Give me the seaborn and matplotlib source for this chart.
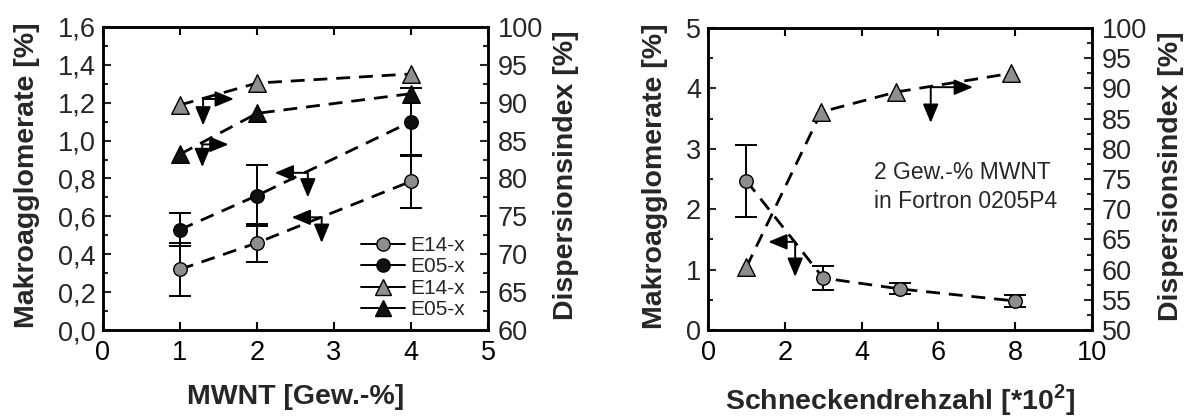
import matplotlib
matplotlib.use("Agg")
import matplotlib.pyplot as plt
from matplotlib.lines import Line2D
from matplotlib.ticker import MultipleLocator, FuncFormatter
import numpy as np
import pandas as pd
import seaborn as sns

# ---------------- data ----------------
mwnt = [1, 2, 4]
e14_makro = [0.32, 0.46, 0.785]
e14_makro_err = [0.14, 0.10, 0.14]
e05_makro = [0.53, 0.71, 1.10]
e05_makro_err = [0.086, 0.16, 0.18]
e14_disp = [89.7, 92.6, 93.8]
e05_disp = [83.2, 88.6, 91.2]
legend_labels = ["E14-x", "E05-x", "E14-x", "E05-x"]

drehzahl = [1, 3, 5, 8]
drehzahl_disp = [1, 2.95, 4.9, 7.9]
makro_r = [2.47, 0.86, 0.68, 0.48]
makro_r_err = [0.60, 0.20, 0.09, 0.10]
disp_r = [60.4, 86.1, 89.4, 92.5]

# annotation arrows (corner, tip) in left-axis data units
arrows_left = [((1.30, 1.22), (1.30, 1.08)), ((1.30, 1.22), (1.70, 1.22)),
               ((1.29, 0.98), (1.29, 0.86)), ((1.29, 0.98), (1.63, 0.98)),
               ((2.66, 0.83), (2.23, 0.83)), ((2.66, 0.83), (2.66, 0.70)),
               ((2.84, 0.595), (2.45, 0.595)), ((2.84, 0.595), (2.84, 0.46))]
arrows_right = [((5.8, 4.02), (5.8, 3.43)), ((5.8, 4.02), (6.9, 4.02)),
                ((2.27, 1.46), (1.57, 1.46)), ((2.27, 1.46), (2.27, 0.88))]

# ---------------- style ----------------
sns.set_style("ticks")
plt.rcParams["font.family"] = ["Liberation Sans", "DejaVu Sans"]
plt.rcParams["mathtext.fontset"] = "custom"
plt.rcParams["mathtext.rm"] = "Liberation Sans"
plt.rcParams["mathtext.bf"] = "Liberation Sans:bold"

GREY = "#8e8e8e"
BLACK = "#111111"
DASH = (0, (5, 3.2))
DLW = 2.0
TICK_FS = 19.5
LABEL_FS = 20.5

W, H = 1192, 417
fig = plt.figure(figsize=(W / 100, H / 100), dpi=100)
axL = fig.add_axes([103 / W, (H - 330) / H, 385 / W, 303 / H])
axR = fig.add_axes([708 / W, (H - 330) / H, 384 / W, 302 / H])
axL2 = axL.twinx()
axR2 = axR.twinx()

comma = FuncFormatter(lambda v, p: f"{v:.1f}".replace(".", ","))


def style_axes(ax, ax2):
    for a in (ax, ax2):
        for s in a.spines.values():
            s.set_linewidth(1.8)
            s.set_color("black")
    ax.tick_params(axis="x", which="both", direction="in", top=True, bottom=True,
                   length=6, width=1.5, labelsize=TICK_FS, pad=7, colors="black")
    ax.tick_params(axis="y", which="major", direction="in", left=True, right=False,
                   length=6, width=1.5, labelsize=TICK_FS, pad=5)
    ax.tick_params(axis="y", which="minor", direction="in", left=True, right=False,
                   length=3.5, width=1.5)
    ax2.tick_params(axis="y", which="major", direction="in", right=True, left=False,
                    length=6, width=1.5, labelsize=TICK_FS, pad=7)
    ax2.tick_params(axis="y", which="minor", direction="in", right=True, left=False,
                    length=3.5, width=1.5)


arrowprops = dict(arrowstyle="-|>,head_length=0.6,head_width=0.25", lw=1.4,
                  color="black", mutation_scale=19, shrinkA=0, shrinkB=0)

# ---------------- left panel ----------------
ax, ax2 = axL, axL2
for yv, err, col in [(e14_makro, e14_makro_err, GREY), (e05_makro, e05_makro_err, BLACK)]:
    sns.lineplot(x=mwnt, y=yv, ax=ax, color="black", lw=DLW, linestyle=DASH,
                 zorder=2, sort=False)
    ax.errorbar(mwnt, yv, yerr=err, fmt="none", ecolor="black", elinewidth=1.4,
                capsize=8, capthick=1.4, zorder=3)
    sns.scatterplot(x=mwnt, y=yv, ax=ax, color=col, edgecolor="black", linewidth=1,
                    s=95, marker="o", zorder=4)
for yv, col in [(e14_disp, GREY), (e05_disp, BLACK)]:
    sns.lineplot(x=mwnt, y=yv, ax=ax2, color="black", lw=DLW, linestyle=DASH,
                 zorder=2, sort=False)
    sns.scatterplot(x=mwnt, y=yv, ax=ax2, color=col, edgecolor="black", linewidth=1,
                    s=160, marker="^", zorder=4)
for corner, tip in arrows_left:
    ax.annotate("", xy=tip, xytext=corner, arrowprops=arrowprops)

ax.set_xlim(0, 5)
ax.set_ylim(0, 1.6)
ax.xaxis.set_major_locator(MultipleLocator(1))
ax.yaxis.set_major_locator(MultipleLocator(0.2))
ax.yaxis.set_minor_locator(MultipleLocator(0.1))
ax.yaxis.set_major_formatter(comma)
ax2.set_ylim(60, 100)
ax2.yaxis.set_major_locator(MultipleLocator(5))
ax2.yaxis.set_minor_locator(MultipleLocator(2.5))
style_axes(ax, ax2)

ax.set_xlabel("MWNT [Gew.-%]", fontsize=LABEL_FS, fontweight="bold", va="center")
ax.set_ylabel("Makroagglomerate [%]", fontsize=LABEL_FS, fontweight="bold", va="center")
ax2.set_ylabel("Dispersionsindex [%]", fontsize=LABEL_FS, fontweight="bold", va="center")
ax.xaxis.set_label_coords(0.5, -0.222)
ax.yaxis.set_label_coords(-0.197, 0.51)
ax2.yaxis.set_label_coords(1.203, 0.51)

handles = [
    Line2D([], [], color="black", lw=1.4, marker="o", ms=9.5, mfc=GREY, mec="black"),
    Line2D([], [], color="black", lw=1.4, marker="o", ms=9.5, mfc=BLACK, mec="black"),
    Line2D([], [], color="black", lw=1.4, marker="^", ms=11.5, mfc=GREY, mec="black"),
    Line2D([], [], color="black", lw=1.4, marker="^", ms=11.5, mfc=BLACK, mec="black"),
]
leg = ax2.legend(handles, legend_labels, loc="lower right", bbox_to_anchor=(0.94, 0.035),
                 frameon=False, fontsize=15, borderaxespad=0, borderpad=0,
                 labelspacing=0.12, handlelength=2.1, handletextpad=0.25)

# ---------------- right panel ----------------
ax, ax2 = axR, axR2
sns.lineplot(x=drehzahl, y=makro_r, ax=ax, color="black", lw=DLW, linestyle=DASH,
             zorder=2, sort=False)
ax.errorbar(drehzahl, makro_r, yerr=makro_r_err, fmt="none", ecolor="black",
            elinewidth=1.4, capsize=8, capthick=1.4, zorder=3)
sns.scatterplot(x=drehzahl, y=makro_r, ax=ax, color=GREY, edgecolor="black",
                linewidth=1, s=95, marker="o", zorder=4)
sns.lineplot(x=drehzahl_disp, y=disp_r, ax=ax2, color="black", lw=DLW, linestyle=DASH,
             zorder=2, sort=False)
sns.scatterplot(x=drehzahl_disp, y=disp_r, ax=ax2, color=GREY, edgecolor="black",
                linewidth=1, s=160, marker="^", zorder=4)
for corner, tip in arrows_right:
    ax.annotate("", xy=tip, xytext=corner, arrowprops=arrowprops)
ax.text(4.31, 2.37, "2 Gew.-% MWNT\nin Fortron 0205P4", fontsize=16.5, va="center",
        ha="left", linespacing=1.3)

ax.set_xlim(0, 10)
ax.set_ylim(0, 5)
ax.xaxis.set_major_locator(MultipleLocator(2))
ax.yaxis.set_major_locator(MultipleLocator(1))
ax.yaxis.set_minor_locator(MultipleLocator(0.5))
ax2.set_ylim(50, 100)
ax2.yaxis.set_major_locator(MultipleLocator(5))
ax2.yaxis.set_minor_locator(MultipleLocator(2.5))
style_axes(ax, ax2)

ax.set_xlabel(r"Schneckendrehzahl [*10$^{\mathbf{2}}$]", fontsize=LABEL_FS,
              fontweight="bold", va="center")
ax.set_ylabel("Makroagglomerate [%]", fontsize=LABEL_FS, fontweight="bold", va="center")
ax2.set_ylabel("Dispersionsindex [%]", fontsize=LABEL_FS, fontweight="bold", va="center")
ax.xaxis.set_label_coords(0.5, -0.232)
ax.yaxis.set_label_coords(-0.138, 0.51)
ax2.yaxis.set_label_coords(1.206, 0.51)

fig.savefig("out.png", dpi=100)
